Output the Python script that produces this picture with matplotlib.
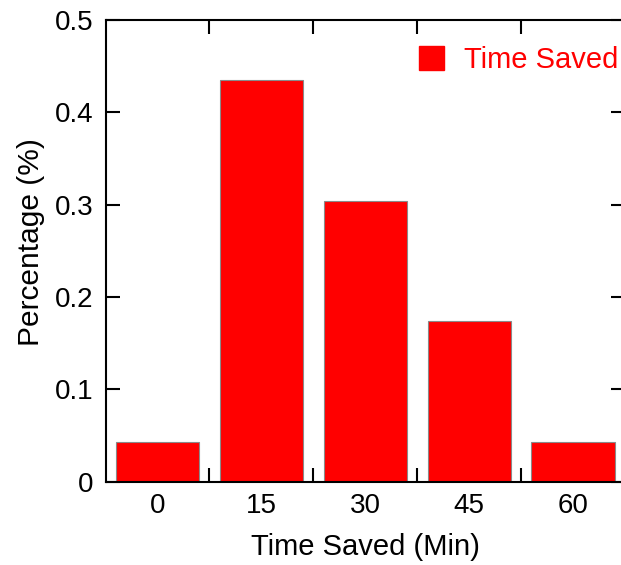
import matplotlib
matplotlib.use("Agg")
import matplotlib.pyplot as plt
from matplotlib.ticker import FixedLocator, FuncFormatter
from matplotlib.patches import Patch

categories = ["0", "15", "30", "45", "60"]
values = [0.0435, 0.4348, 0.3043, 0.1739, 0.0435]
yticks = [0, 0.1, 0.2, 0.3, 0.4, 0.5]

plt.rcParams['font.family'] = ['Liberation Sans', 'DejaVu Sans']

fig = plt.figure(figsize=(6.21, 5.65), dpi=100)
ax = fig.add_axes([0.170, 0.1474, 0.8364, 0.8172])

x = list(range(len(categories)))
ax.bar(x, values, width=0.8, color='#ff0000', edgecolor='#8a8a8a', linewidth=0.8,
       label='Time Saved', zorder=2)

ax.set_xlim(-0.5, len(categories) - 0.5)
ax.set_ylim(0, 0.5)

ax.xaxis.set_major_locator(FixedLocator(x))
ax.set_xticklabels(categories)
ax.xaxis.set_minor_locator(FixedLocator([i + 0.5 for i in range(len(categories) - 1)]))
ax.tick_params(axis='x', which='major', length=0, labelsize=20, pad=8)
ax.tick_params(axis='x', which='minor', direction='in', length=10, width=1.5, top=True, bottom=True)

ax.yaxis.set_major_locator(FixedLocator(yticks))
ax.yaxis.set_major_formatter(FuncFormatter(lambda v, p: "0" if abs(v) < 1e-9 else f"{v:.1f}"))
ax.tick_params(axis='y', which='major', direction='in', length=10, width=1.5,
               left=True, right=True, labelsize=20, pad=9)

for s in ax.spines.values():
    s.set_linewidth(1.5)

ax.set_xlabel("Time Saved (Min)", fontsize=21, labelpad=10)
ax.set_ylabel("Percentage (%)", fontsize=21.5)
ax.yaxis.set_label_coords(-0.116, 0.519)

handle = Patch(facecolor='#ff0000', edgecolor='#ff0000')
leg = ax.legend([handle], ['Time Saved'], loc='upper right', frameon=False, fontsize=21,
                handlelength=0.86, handleheight=0.86, handletextpad=0.7,
                bbox_to_anchor=(1.038, 1.0))
for t in leg.get_texts():
    t.set_color('#ff0000')

fig.savefig("out.png", dpi=100)
